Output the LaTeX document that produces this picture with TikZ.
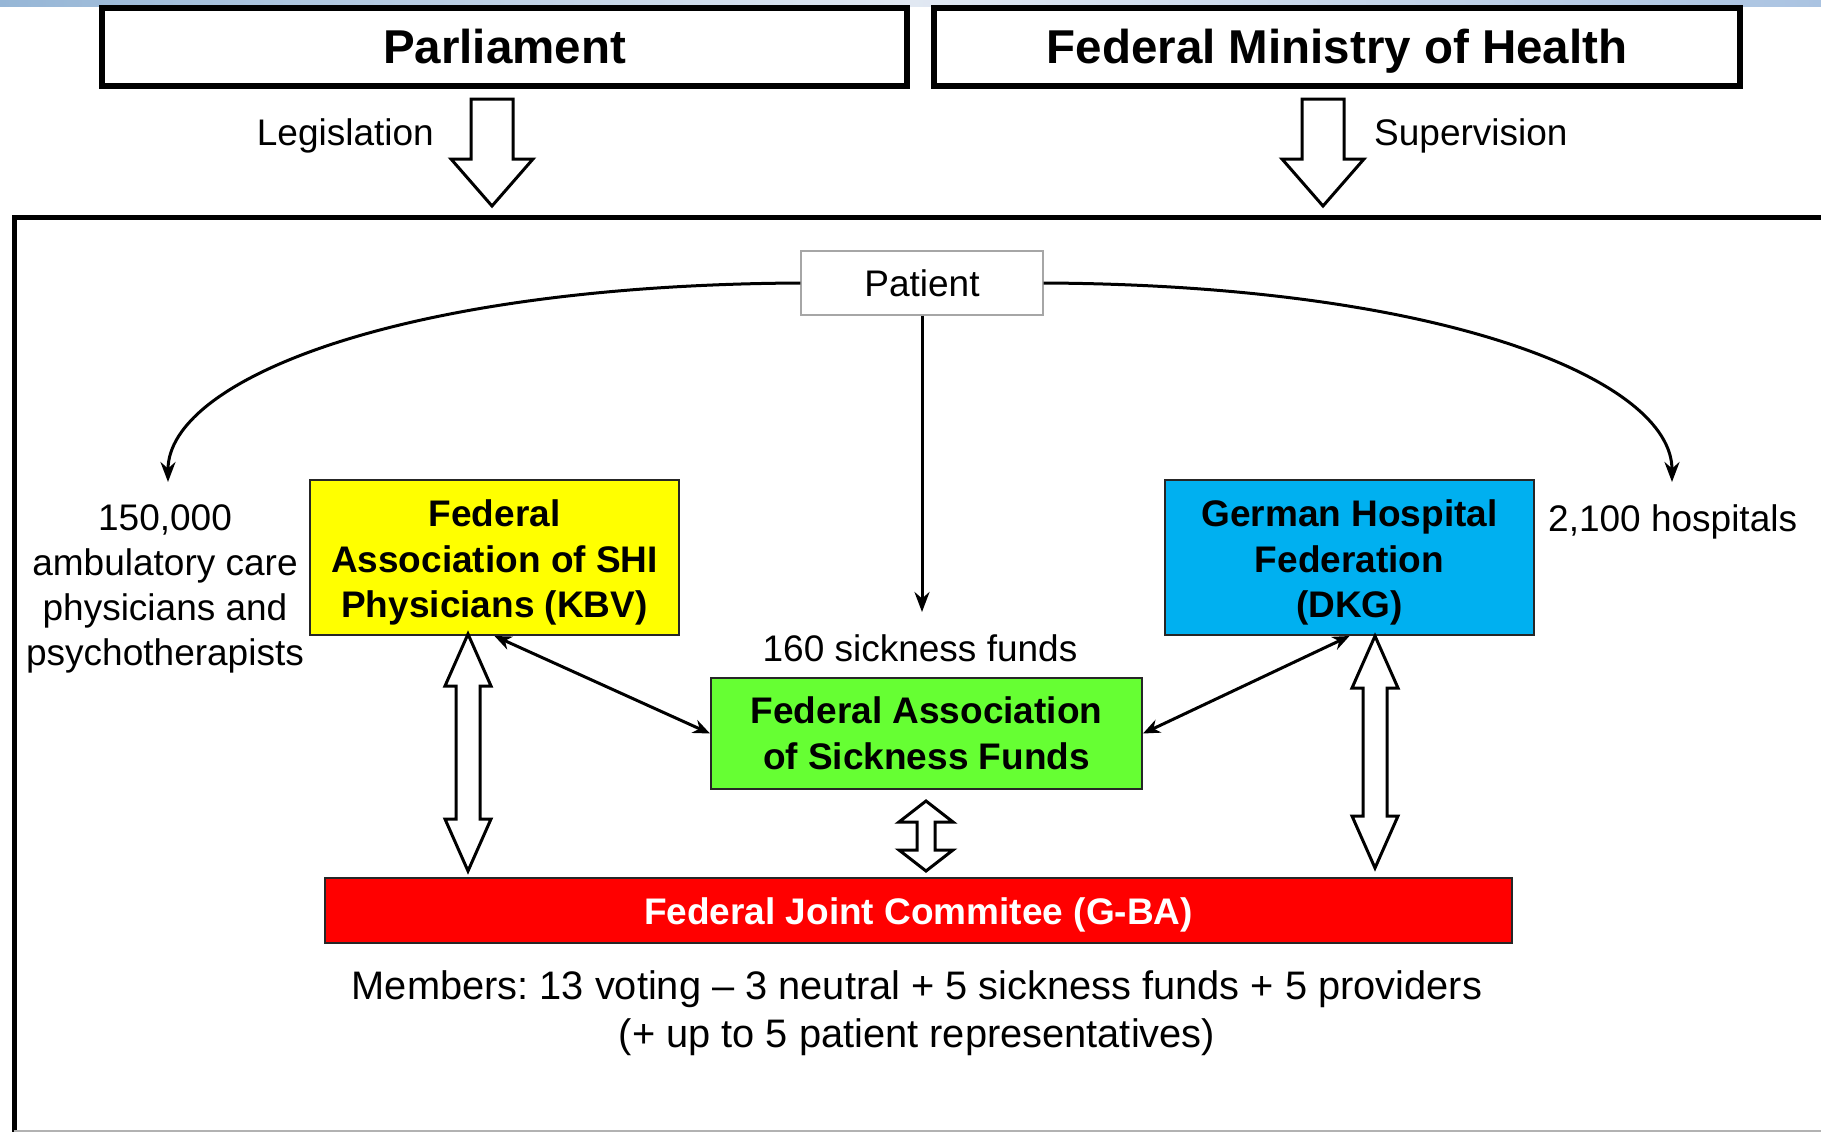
\documentclass[tikz,border=0pt]{standalone}
\usepackage{fontspec}
\setmainfont{Liberation Sans}
\usetikzlibrary{arrows.meta}
\frenchspacing
\definecolor{kbvyellow}{RGB}{255,255,0}
\definecolor{dkgblue}{RGB}{0,176,240}
\definecolor{gkvgreen}{RGB}{102,255,51}
\definecolor{gbared}{RGB}{255,0,0}
\newcommand{\hdownarrow}[6]{% x, ytop, yhead, ytip, half shaft, half head
  \draw[hollow] (#1-#5,#2) -- (#1+#5,#2) -- (#1+#5,#3) -- (#1+#6,#3) -- (#1,#4) -- (#1-#6,#3) -- (#1-#5,#3) -- cycle;}
\newcommand{\hdblarrow}[6]{% x, ytop, ybot, headlen, half shaft, half head
  \draw[hollow] (#1,#2) -- (#1+#6,#2+#4) -- (#1+#5,#2+#4) -- (#1+#5,#3-#4) -- (#1+#6,#3-#4) -- (#1,#3)
     -- (#1-#6,#3-#4) -- (#1-#5,#3-#4) -- (#1-#5,#2+#4) -- (#1-#6,#2+#4) -- cycle;}
\newcommand{\toppush}{\rule{0pt}{37pt}}
\begin{document}
\begin{tikzpicture}[x=1pt,y=-1pt,
  topbox/.style={draw, line width=5.5pt, minimum width=805pt, minimum height=78pt, inner sep=0pt,
    text height=34pt, text depth=0pt, font=\fontsize{47.5}{56}\selectfont\bfseries},
  orgbox/.style={draw=black!85, line width=2pt, align=center, inner sep=0pt,
    font=\fontsize{37}{45.5}\selectfont\bfseries},
  plain/.style={align=center, inner sep=0pt, font=\fontsize{37}{45}\selectfont},
  hollow/.style={draw, fill=white, line width=3pt, line join=miter},
  conn/.style={line width=3pt, -{Stealth[length=20pt,width=15pt]}},
  dconn/.style={line width=3pt, {Stealth[length=17pt,width=14pt]}-{Stealth[length=17pt,width=14pt]}}
]
\useasboundingbox (0,0) rectangle (1821,1132);
\fill[white] (0,0) rectangle (1821,1132);
% top strip
\shade[left color={rgb,255:red,150;green,182;blue,214}, right color={rgb,255:red,170;green,195;blue,225},
  middle color={rgb,255:red,225;green,232;blue,242}] (0,0) rectangle (1821,7);

% outer frame
\draw[line width=5pt] (14,1140) -- (14,217) -- (1830,217);
\draw[gray!60, line width=2pt] (14,1131) -- (1830,1131);

% top boxes
\node[topbox] (parl) at (504.5,47) {Parliament};
\node[topbox, minimum width=806pt] (bmg) at (1337,47) {Federal Ministry of Health};

% hollow downward arrows
\hdownarrow{492}{99}{159}{206}{21}{41}
\hdownarrow{1323}{99}{159}{206}{21}{41}
\node[plain, anchor=east] (leg) at (434,136) {Legislation};
\node[plain, anchor=west] (sup) at (1374,136) {Supervision};

% patient
\node[draw=gray!70, line width=1.2pt, minimum width=242pt, minimum height=64pt, inner sep=0pt,
  font=\fontsize{37}{45}\selectfont] (patient) at (922,283) {Patient};

% organisations
\node[orgbox, fill=kbvyellow, minimum width=369pt, minimum height=155pt] (kbv) at (494.5,557.5)
  {\toppush Federal\\Association of SHI\\Physicians (KBV)};
\node[orgbox, fill=dkgblue, minimum width=369pt, minimum height=155pt] (dkg) at (1349.5,557.5)
  {\toppush German Hospital\\Federation\\(DKG)};
\node[orgbox, fill=gkvgreen, minimum width=431pt, minimum height=111pt] (gkv) at (926.5,733.5)
  {Federal Association\\of Sickness Funds};
\node[orgbox, fill=gbared, text=white, minimum width=1187pt, minimum height=65pt,
  text height=27pt, text depth=0pt] (gba) at (918.5,910.5)
  {Federal Joint Commitee (G-BA)};

% labels
\node[plain] (phystext) at (165,589) {150,000\\ambulatory care\\physicians and\\psychotherapists};
\node[plain, anchor=west] (hosptext) at (1548,522) {2,100 hospitals};
\node[plain] (sftext) at (920,648) {160 sickness funds};
\node[plain, font=\fontsize{39.8}{48}\selectfont] (members) at (917,1013)
  {Members: 13 voting – 3 neutral + 5 sickness funds + 5 providers\\(+ up to 5 patient representatives)};

% connectors from patient
\coordinate (phystip) at (168,482);
\coordinate (hosptip) at (1672,482);
\coordinate (sftip) at (922,612);
\draw[conn] (patient.west) .. controls (400,285) and (168,380) .. (phystip);
\draw[conn] (patient.east) .. controls (1444,285) and (1672,380) .. (hosptip);
\draw[conn] (patient.south) -- (sftip);

% diagonal double arrows
\draw[dconn] (kbv.south) -- (gkv.west);
\draw[dconn] (dkg.south) -- (gkv.east);

% hollow double arrows to G-BA
\hdblarrow{468}{634}{871}{52}{12}{23}
\hdblarrow{1375}{636}{868}{52}{12}{23}
\hdblarrow{926}{801}{871}{21}{9}{27}
\end{tikzpicture}
\end{document}
